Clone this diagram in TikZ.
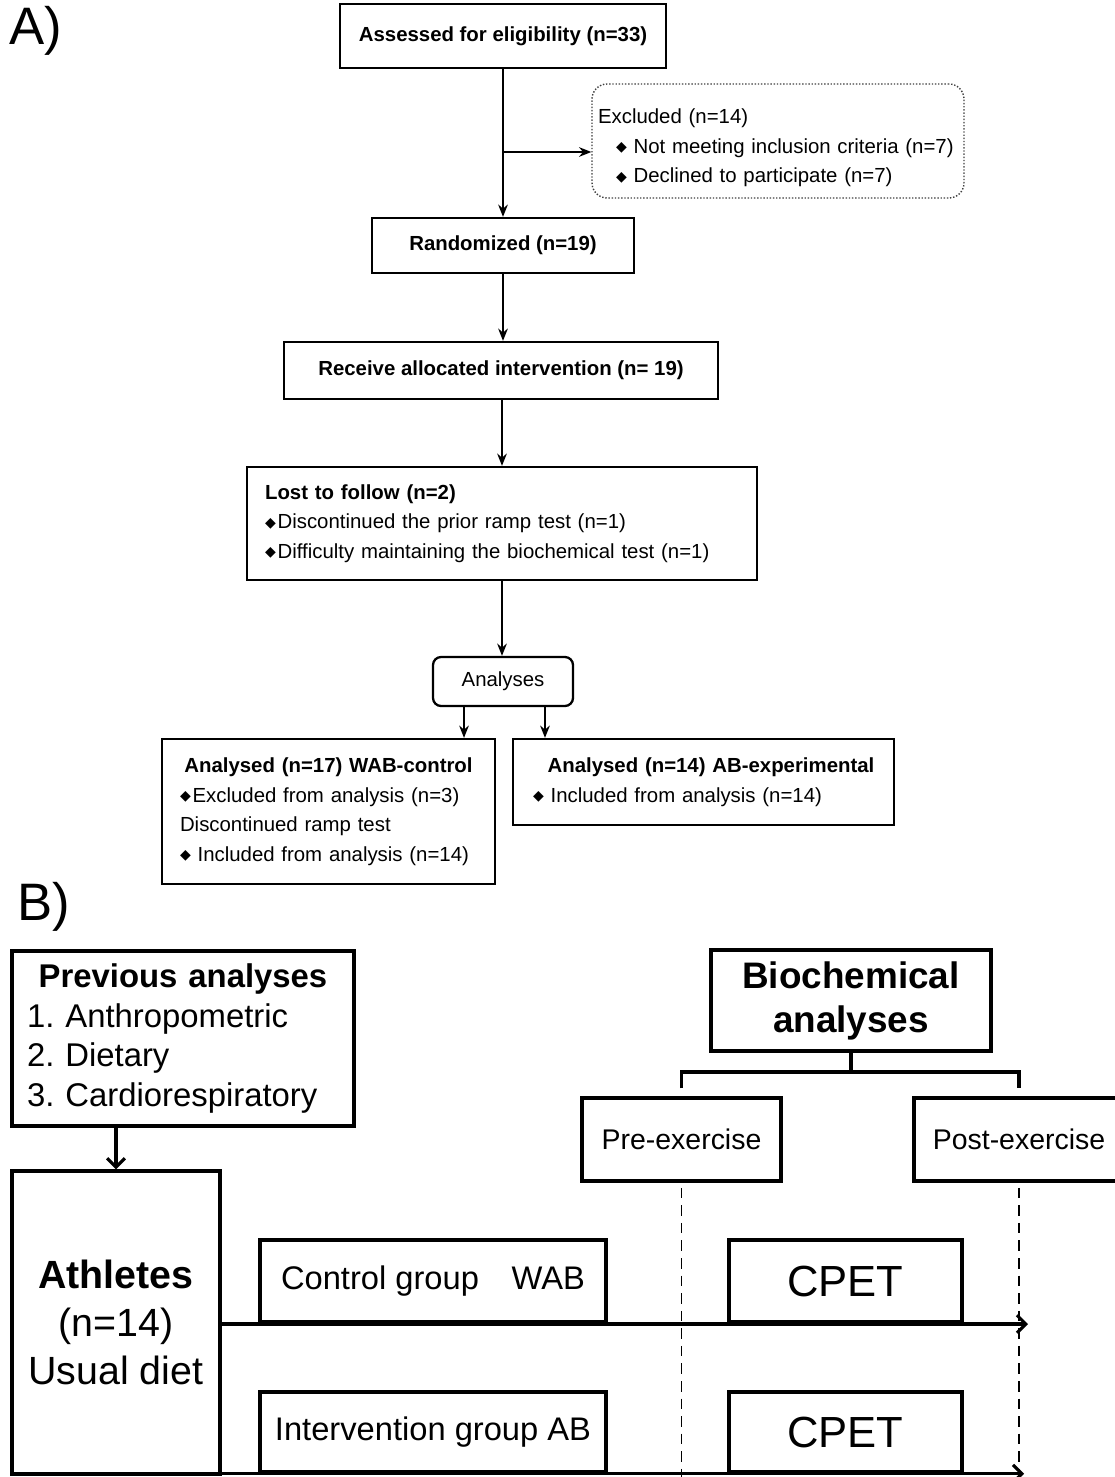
\documentclass[tikz,border=0pt]{standalone}
\usepackage{fontspec}
\setmainfont{Liberation Sans}
\newfontfamily\symfam{DejaVu Sans}
\usepackage{tikz}
\usetikzlibrary{arrows.meta}
\frenchspacing
\newcommand\flowfont{\fontsize{11.6}{16.8}\selectfont}
\newcommand\dmd{\raisebox{0.9pt}{\symfam\fontsize{8}{8}\selectfont ◆}}

\begin{document}
\begin{tikzpicture}[x=0.02cm, y=-0.02cm, >={Stealth[length=7pt,width=5.5pt]},
  every node/.style={font=\flowfont},
  flowbox/.style={draw, line width=1.3pt, inner sep=0pt, align=center},
  listbox/.style={flowbox, align=left},
  stagebox/.style={draw, line width=2pt, inner sep=0pt, align=center},
  flowline/.style={line width=0.9pt, ->},
  stageline/.style={line width=1.8pt, -{Straight Barb[length=5pt,width=10pt]}},
  timeline/.style={line width=0.9pt, dash pattern=on 6pt off 4pt}]
  \useasboundingbox (0,0) rectangle (1115,1477);
  \clip (0,0) rectangle (1115,1477);

  % A) enrolment flow
  \node[font=\fontsize{30}{30}\selectfont] (labA) at (36,31) {A)};
  \node[flowbox, minimum width=6.52cm, minimum height=1.28cm, font=\flowfont\bfseries] (assess) at (503,36) {Assessed for eligibility (n=33)};
  \node[listbox, draw=black!75, line width=0.8pt, densely dotted, rounded corners=0.3cm, minimum width=7.44cm, minimum height=2.28cm, text width=7.2cm] (excl) at (778,141) {\rule{0pt}{0.58cm}Excluded (n=14)\\\hspace*{0.36cm}\dmd\ Not meeting inclusion criteria (n=7)\\\hspace*{0.36cm}\dmd\ Declined to participate (n=7)};
  \node[flowbox, minimum width=5.24cm, minimum height=1.1cm, font=\flowfont\bfseries] (rand) at (503,245.5) {Randomized (n=19)};
  \node[flowbox, minimum width=8.68cm, minimum height=1.14cm, font=\flowfont\bfseries] (recv) at (501,370.5) {Receive allocated intervention (n= 19)};
  \node[listbox, minimum width=10.2cm, minimum height=2.26cm, text width=9.48cm] (lost) at (502,523.5) {\textbf{Lost to follow (n=2)}\\\dmd\kern1pt Discontinued the prior ramp test (n=1)\\\dmd\kern1pt Difficulty maintaining the biochemical test (n=1)};
  \node[flowbox, rounded corners=0.16cm, minimum width=2.8cm, minimum height=0.98cm] (ana) at (503,681.5) {Analyses};
  \node[listbox, minimum width=6.66cm, minimum height=2.9cm, text width=5.94cm] (wab) at (328.5,811.5) {\makebox[\linewidth]{\bfseries Analysed (n=17) WAB-control}\\\dmd\kern1pt Excluded from analysis (n=3)\\Discontinued ramp test\\\dmd\ Included from analysis (n=14)};
  \node[listbox, minimum width=7.62cm, minimum height=1.72cm, text width=6.82cm] (ab) at (703.5,782) {\makebox[\linewidth]{\hspace*{0.3cm}\bfseries Analysed (n=14) AB-experimental}\\\dmd\ Included from analysis (n=14)};

  \coordinate (split) at (503,152);
  \draw[flowline] (assess) -- (rand);
  \draw[flowline] (split) -- (split -| excl.west);
  \draw[flowline] (rand) -- (rand |- recv.north);
  \draw[flowline] (recv.south -| lost.north) -- (lost.north);
  \draw[flowline] (lost) -- (lost |- ana.north);
  \draw[flowline] ([xshift=-0.78cm]ana.south) -- ([xshift=-0.78cm]ana.south |- wab.north);
  \draw[flowline] ([xshift=0.84cm]ana.south) -- ([xshift=0.84cm]ana.south |- ab.north);

  % B) study design
  \node[font=\fontsize{30}{30}\selectfont] (labB) at (44,907) {B)};
  \node[stagebox, align=left, minimum width=6.84cm, minimum height=3.5cm, text width=6.24cm, font=\fontsize{18.7}{22.6}\selectfont] (prev) at (183,1038.5) {\makebox[\linewidth]{\bfseries Previous analyses}\\1. Anthropometric\\2. Dietary\\3. Cardiorespiratory};
  \node[stagebox, minimum width=4.16cm, minimum height=6.06cm, font=\fontsize{22.4}{27.3}\selectfont] (ath) at (116,1322.5) {\textbf{Athletes}\\(n=14)\\Usual diet};
  \node[stagebox, minimum width=5.6cm, minimum height=2.02cm, font=\fontsize{21}{25}\selectfont\bfseries] (bio) at (851,1000.5) {Biochemical\\analyses};
  \node[stagebox, minimum width=3.98cm, minimum height=1.66cm, font=\fontsize{16.2}{20}\selectfont] (pre) at (681.5,1139.5) {Pre-exercise};
  \node[stagebox, minimum width=4.2cm, minimum height=1.66cm, font=\fontsize{16.2}{20}\selectfont] (post) at (1019,1139.5) {Post-exercise};
  \node[stagebox, minimum width=6.92cm, minimum height=1.64cm, font=\fontsize{18.6}{22}\selectfont] (ctrl) at (433,1281) {Control group\quad WAB};
  \node[stagebox, minimum width=4.66cm, minimum height=1.64cm, font=\fontsize{24.8}{28}\selectfont] (cpetA) at (845.5,1281) {CPET};
  \node[stagebox, minimum width=6.92cm, minimum height=1.6cm, font=\fontsize{18.6}{22}\selectfont] (intv) at (433,1432) {Intervention group AB};
  \node[stagebox, minimum width=4.66cm, minimum height=1.6cm, font=\fontsize{24.8}{28}\selectfont] (cpetB) at (845.5,1432) {CPET};

  \coordinate (fork) at (851,1072);
  \draw[stageline] (prev.south -| ath.north) -- (ath.north);
  \draw[line width=2pt] (bio.south) -- (fork);
  \draw[line width=2pt] ([yshift=0.16cm]pre.north) -- (pre.north |- fork) -- (post.north |- fork) -- ([yshift=0.16cm]post.north);
  \draw[timeline] ([yshift=-0.1cm]pre.south) -- (pre.south |- 0,1477);
  \draw[timeline] ([yshift=-0.1cm]post.south) -- (post.south |- 0,1477);
  \draw[stageline] ([yshift=-0.03cm]ath.east) -- ([xshift=0.18cm,yshift=-0.03cm]ath.east -| post.south);
  \draw[stageline] ([yshift=0.04cm]ath.south east) -- ([xshift=0.1cm,yshift=0.04cm]ath.south east -| post.south);
\end{tikzpicture}
\end{document}
